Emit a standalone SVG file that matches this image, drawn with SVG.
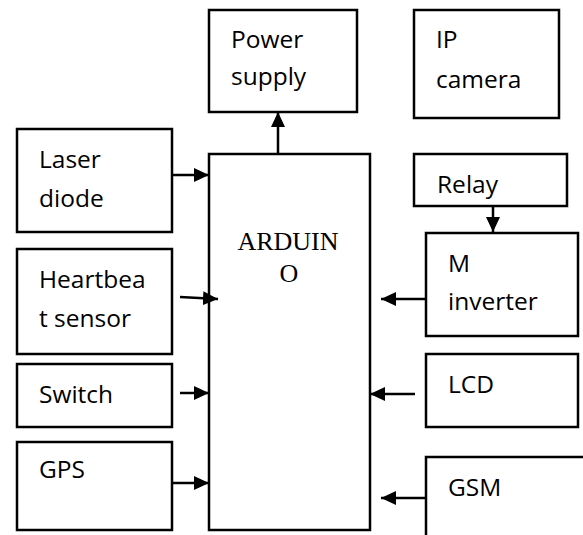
<svg xmlns="http://www.w3.org/2000/svg" width="583" height="535" viewBox="0 0 583 535">
<defs>
<marker id="ah" viewBox="0 0 15 14" refX="15" refY="7" markerWidth="15" markerHeight="14" markerUnits="userSpaceOnUse" orient="auto">
<path d="M0,0 L15,7 L0,14 Z" fill="#000"/>
</marker>
<style>
.box{fill:#fff;stroke:#000;stroke-width:2.5}
.lbl{font-family:"Open Sans","Liberation Sans",sans-serif;font-size:24.5px;fill:#000}
.ser{font-family:"Liberation Serif","Times New Roman",serif;font-size:26px;fill:#000}
.con{stroke:#000;stroke-width:2.5;fill:none;marker-end:url(#ah)}
</style>
</defs>
<rect width="583" height="535" fill="#fff"/>
<g id="power"><rect class="box" x="209" y="10" width="148" height="102"/><text class="lbl" x="231" y="48">Power</text><text class="lbl" x="231" y="85">supply</text></g>
<g id="ipcam"><rect class="box" x="414" y="10" width="145" height="108"/><text class="lbl" x="436" y="48">IP</text><text class="lbl" x="436" y="88">camera</text></g>
<g id="laser"><rect class="box" x="17" y="129" width="155" height="103"/><text class="lbl" x="39" y="168">Laser</text><text class="lbl" x="39" y="207">diode</text></g>
<g id="heart"><rect class="box" x="17" y="249" width="155" height="105"/><text class="lbl" x="39" y="288">Heartbea</text><text class="lbl" x="39" y="327">t sensor</text></g>
<g id="switch"><rect class="box" x="17" y="364" width="155" height="63"/><text class="lbl" x="39" y="403">Switch</text></g>
<g id="gps"><rect class="box" x="17" y="442" width="155" height="88"/><text class="lbl" x="39" y="478">GPS</text></g>
<g id="arduino"><rect class="box" x="209" y="154" width="161" height="376"/><text class="ser" x="288" y="250" text-anchor="middle">ARDUIN</text><text class="ser" x="289" y="282" text-anchor="middle">O</text></g>
<g id="relay"><rect class="box" x="414" y="154" width="153" height="52"/><text class="lbl" x="437" y="193">Relay</text></g>
<g id="minv"><rect class="box" x="426" y="233" width="152" height="103"/><text class="lbl" x="448" y="272">M</text><text class="lbl" x="448" y="310">inverter</text></g>
<g id="lcd"><rect class="box" x="426" y="354" width="152" height="73"/><text class="lbl" x="448" y="393">LCD</text></g>
<g id="gsm"><rect class="box" x="426" y="457" width="200" height="100"/><text class="lbl" x="448" y="496">GSM</text></g>
<g id="connectors">
<line class="con" x1="278" y1="154" x2="278" y2="112"/>
<line class="con" x1="172" y1="175" x2="209" y2="175"/>
<line class="con" x1="180" y1="297" x2="218" y2="299"/>
<line class="con" x1="180" y1="393" x2="209" y2="393"/>
<line class="con" x1="172" y1="483" x2="209" y2="483"/>
<line class="con" x1="493" y1="206" x2="493" y2="232"/>
<line class="con" x1="426" y1="299" x2="381" y2="299"/>
<line class="con" x1="415" y1="394" x2="370" y2="394"/>
<line class="con" x1="426" y1="498" x2="381" y2="498"/>
</g>
</svg>
